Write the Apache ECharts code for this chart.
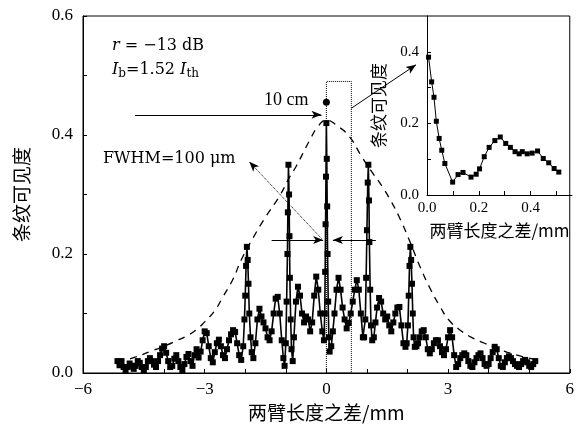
<!DOCTYPE html>
<html><head><meta charset="utf-8">
<script src="https://cdn.jsdelivr.net/npm/echarts@6/dist/echarts.min.js"></script>
<style>html,body{margin:0;padding:0;background:#fff}#c{width:577px;height:434px}</style>
</head><body><div id="c"></div>
<script>
// Main visibility curve: [path difference (mm), fringe visibility]
const mainData = [
[-5.15,0.02],[-5.1,0.013],[-5.05,0.02],[-5.0,0.01],[-4.95,0.005],[-4.9,0.01],[-4.85,0.016],[-4.8,0.012],[-4.75,0.007],[-4.7,0.012],[-4.65,0.02],[-4.6,0.017],[-4.55,0.01],[-4.5,0.005],[-4.45,0.01],[-4.4,0.02],[-4.35,0.025],[-4.3,0.02],[-4.25,0.014],[-4.2,0.01],[-4.15,0.02],[-4.1,0.03],[-4.05,0.041],[-4.0,0.045],[-3.95,0.034],[-3.9,0.02],[-3.85,0.01],[-3.8,0.012],[-3.75,0.024],[-3.7,0.03],[-3.65,0.02],[-3.6,0.01],[-3.55,0.005],[-3.5,0.015],[-3.45,0.027],[-3.4,0.032],[-3.35,0.02],[-3.3,0.012],[-3.25,0.03],[-3.2,0.04],[-3.15,0.026],[-3.1,0.036],[-3.05,0.055],[-3.0,0.07],[-2.95,0.067],[-2.9,0.045],[-2.85,0.025],[-2.8,0.018],[-2.75,0.035],[-2.7,0.05],[-2.65,0.056],[-2.6,0.045],[-2.55,0.03],[-2.5,0.025],[-2.45,0.04],[-2.4,0.055],[-2.35,0.065],[-2.3,0.072],[-2.25,0.069],[-2.2,0.05],[-2.15,0.03],[-2.1,0.022],[-2.05,0.045],[-2.02,0.09],[-2.0,0.13],[-1.98,0.18],[-1.96,0.212],[-1.94,0.19],[-1.92,0.15],[-1.9,0.1],[-1.87,0.06],[-1.84,0.035],[-1.8,0.025],[-1.75,0.05],[-1.7,0.09],[-1.65,0.108],[-1.6,0.095],[-1.55,0.085],[-1.5,0.075],[-1.45,0.06],[-1.4,0.055],[-1.35,0.07],[-1.3,0.1],[-1.25,0.125],[-1.2,0.128],[-1.15,0.1],[-1.1,0.055],[-1.06,0.025],[-1.03,0.012],[-1.0,0.05],[-0.98,0.12],[-0.96,0.2],[-0.95,0.27],[-0.935,0.35],[-0.92,0.3],[-0.91,0.23],[-0.9,0.16],[-0.88,0.09],[-0.86,0.04],[-0.83,0.02],[-0.8,0.06],[-0.75,0.12],[-0.7,0.145],[-0.65,0.13],[-0.6,0.1],[-0.55,0.085],[-0.5,0.095],[-0.45,0.09],[-0.4,0.07],[-0.35,0.085],[-0.3,0.13],[-0.25,0.162],[-0.2,0.14],[-0.15,0.1],[-0.1,0.07],[-0.06,0.055],[-0.04,0.1],[-0.03,0.17],[-0.02,0.25],[-0.01,0.33],[0,0.42],[0.01,0.36],[0.02,0.28],[0.03,0.2],[0.045,0.12],[0.06,0.06],[0.08,0.036],[0.12,0.045],[0.16,0.07],[0.2,0.1],[0.25,0.14],[0.3,0.16],[0.35,0.14],[0.4,0.11],[0.45,0.09],[0.5,0.075],[0.55,0.084],[0.6,0.1],[0.65,0.12],[0.7,0.14],[0.75,0.156],[0.8,0.14],[0.85,0.1],[0.9,0.06],[0.93,0.06],[0.96,0.09],[0.98,0.16],[1.0,0.24],[1.02,0.32],[1.035,0.35],[1.05,0.29],[1.06,0.22],[1.08,0.14],[1.1,0.08],[1.13,0.055],[1.17,0.06],[1.21,0.085],[1.25,0.11],[1.3,0.126],[1.35,0.12],[1.4,0.1],[1.45,0.09],[1.5,0.095],[1.55,0.08],[1.6,0.07],[1.65,0.085],[1.7,0.1],[1.75,0.11],[1.8,0.111],[1.85,0.08],[1.9,0.05],[1.95,0.044],[1.98,0.05],[2.01,0.08],[2.03,0.13],[2.05,0.18],[2.07,0.212],[2.09,0.19],[2.11,0.15],[2.13,0.1],[2.15,0.06],[2.18,0.044],[2.22,0.045],[2.26,0.05],[2.3,0.06],[2.35,0.07],[2.4,0.072],[2.45,0.06],[2.5,0.04],[2.55,0.033],[2.6,0.04],[2.65,0.05],[2.7,0.055],[2.75,0.055],[2.8,0.045],[2.85,0.035],[2.9,0.03],[2.95,0.04],[3.0,0.06],[3.05,0.072],[3.1,0.06],[3.15,0.03],[3.2,0.01],[3.25,0.015],[3.3,0.025],[3.35,0.03],[3.4,0.033],[3.45,0.03],[3.5,0.02],[3.55,0.012],[3.6,0.01],[3.65,0.018],[3.7,0.025],[3.75,0.03],[3.8,0.033],[3.85,0.025],[3.9,0.015],[3.95,0.012],[4.0,0.015],[4.05,0.025],[4.1,0.035],[4.15,0.044],[4.2,0.04],[4.25,0.025],[4.3,0.012],[4.35,0.01],[4.4,0.018],[4.45,0.025],[4.5,0.028],[4.55,0.025],[4.6,0.02],[4.65,0.015],[4.7,0.012],[4.75,0.01],[4.8,0.015],[4.85,0.02],[4.9,0.022],[4.95,0.018],[5.0,0.012],[5.05,0.01],[5.1,0.015],[5.15,0.02]
];
// Dashed envelope
const envelopeData = [
[-5.15,0.018],[-4.7,0.027],[-4.35,0.036],[-4.0,0.045],[-3.7,0.054],[-3.45,0.062],[-3.2,0.073],[-3.0,0.086],[-2.75,0.105],[-2.55,0.128],[-2.3,0.158],[-2.1,0.19],[-1.8,0.228],[-1.5,0.262],[-1.15,0.298],[-0.9,0.33],[-0.74,0.348],[-0.42,0.39],[-0.2,0.415],[0,0.425],[0.24,0.417],[0.57,0.397],[0.85,0.366],[1.1,0.34],[1.38,0.313],[1.6,0.288],[1.79,0.263],[2.04,0.224],[2.3,0.18],[2.55,0.143],[2.8,0.112],[3.02,0.089],[3.3,0.072],[3.6,0.059],[3.9,0.05],[4.25,0.04],[4.7,0.03],[5.18,0.022]
];
// 10 cm point
const pointData = [[0, 0.455]];
// Inset curve
const insetData = [
[0.006,0.385],[0.018,0.316],[0.027,0.273],[0.036,0.206],[0.047,0.158],[0.057,0.125],[0.069,0.088],[0.099,0.036],[0.12,0.057],[0.139,0.063],[0.17,0.05],[0.19,0.058],[0.203,0.073],[0.221,0.107],[0.24,0.133],[0.262,0.152],[0.283,0.162],[0.304,0.144],[0.322,0.133],[0.34,0.121],[0.356,0.115],[0.368,0.121],[0.387,0.115],[0.406,0.117],[0.427,0.123],[0.449,0.102],[0.47,0.09],[0.491,0.074],[0.509,0.064]
];
const mainXLabels = [-6,-3,0,3,6];
const mainYLabels = [0,0.2,0.4,0.6];
const insetXLabels = [0,0.2,0.4];
const insetYLabels = [0,0.2,0.4];

const SERIF = "'Liberation Serif','Noto Sans CJK SC',serif";
const DSERIF = "'DejaVu Serif','Liberation Serif',serif";
const CJK = "'Noto Sans CJK SC',sans-serif";
const near = (arr, v) => arr.some(a => Math.abs(a - v) < 1e-6);
const fmtNum = (v, d) => (v < 0 ? '\u2212' : '') + Math.abs(v).toFixed(d);

const chart = echarts.init(document.getElementById('c'), null, {renderer:'canvas'});
const axisBase = {
  axisLine:{onZero:false,lineStyle:{color:'#000',width:1}},
  axisTick:{inside:true,length:4,lineStyle:{color:'#000'}},
  splitLine:{show:false}
};
chart.setOption({
  animation:false,
  backgroundColor:'#fff',
  grid:[
    {left:83,right:6,top:16,bottom:61,show:true,borderColor:'#000',borderWidth:1,backgroundColor:'transparent'},
    {left:427,right:5,top:16,bottom:239,show:false}
  ],
  xAxis:[
    Object.assign({gridIndex:0,type:'value',min:-6,max:6,interval:1,
     axisLabel:{color:'#000',fontFamily:SERIF,fontSize:17,margin:8,
       formatter:v=>near(mainXLabels,v)?fmtNum(v,0):''},
     name:'两臂长度之差/mm',nameLocation:'middle',nameGap:30,
     nameTextStyle:{color:'#000',fontFamily:CJK,fontSize:19}},axisBase),
    Object.assign({gridIndex:1,type:'value',min:0,max:0.56,interval:0.1,
     axisLabel:{color:'#000',fontFamily:SERIF,fontSize:15,margin:6,showMaxLabel:false,
       formatter:v=>near(insetXLabels,v)?fmtNum(v,1):''},
     name:'两臂长度之差/mm',nameLocation:'middle',nameGap:27,
     nameTextStyle:{color:'#000',fontFamily:CJK,fontSize:17}},axisBase)
  ],
  yAxis:[
    Object.assign({gridIndex:0,type:'value',min:0,max:0.6,interval:0.1,
     axisLabel:{color:'#000',fontFamily:SERIF,fontSize:17,margin:10,
       formatter:v=>near(mainYLabels,v)?fmtNum(v,1):''},
     name:'条纹可见度',nameLocation:'middle',nameGap:52,
     nameTextStyle:{color:'#000',fontFamily:CJK,fontSize:19}},axisBase),
    Object.assign({gridIndex:1,type:'value',min:0,max:0.5,interval:0.1,
     axisLabel:{color:'#000',fontFamily:SERIF,fontSize:15,margin:8,showMaxLabel:false,
       formatter:v=>near(insetYLabels,v)?fmtNum(v,1):''},
     name:'条纹可见度',nameLocation:'middle',nameGap:40,
     nameTextStyle:{color:'#000',fontFamily:CJK,fontSize:17}},axisBase)
  ],
  series:[
    {type:'line',xAxisIndex:0,yAxisIndex:0,data:envelopeData,smooth:true,showSymbol:false,
     lineStyle:{color:'#000',width:1.3,type:[7,6]},z:1},
    {type:'line',xAxisIndex:0,yAxisIndex:0,data:mainData,symbol:'rect',symbolSize:6,
     itemStyle:{color:'#000'},lineStyle:{color:'#000',width:1.6},z:2},
    {type:'scatter',xAxisIndex:0,yAxisIndex:0,data:pointData,symbol:'circle',symbolSize:7,
     itemStyle:{color:'#000',opacity:1},z:3,
     markArea:{silent:true,itemStyle:{color:'rgba(0,0,0,0)',borderColor:'#000',borderWidth:1,borderType:'dotted'},
       data:[[{coord:[0,0]},{coord:[0.615,0.49]}]]},
     markLine:{silent:true,symbol:['none','arrow'],symbolSize:[6,10],animation:false,
       label:{show:false},lineStyle:{color:'#000',width:1,type:'solid'},
       data:[
         [{coord:[-4.72,0.434]},{coord:[-0.12,0.434]}],
         [{coord:[-1.35,0.2235]},{coord:[-0.08,0.2235]}],
         [{coord:[1.22,0.2235]},{coord:[0.16,0.2235]}],
         [{coord:[0.615,0.445]},{coord:[2.21,0.518]}],
         [{coord:[-0.12,0.226],lineStyle:{type:'dotted'}},{coord:[-1.9,0.355]}]
       ]}},
    {type:'line',xAxisIndex:1,yAxisIndex:1,data:insetData,symbol:'rect',symbolSize:5,
     itemStyle:{color:'#000'},lineStyle:{color:'#000',width:1},z:2}
  ],
  graphic:[
    {type:'text',left:112,top:38,style:{text:'{i|r}{n| = \u221213 dB}',
      rich:{i:{fontFamily:DSERIF,fontStyle:'italic',fontSize:16,fill:'#000'},n:{fontFamily:DSERIF,fontSize:16,fill:'#000'}}}},
    {type:'text',left:112,top:62,style:{text:'{i|I}{s|b}{n|=1.52 }{i|I}{s|th}',
      rich:{i:{fontFamily:DSERIF,fontStyle:'italic',fontSize:16,lineHeight:20,fill:'#000'},
            n:{fontFamily:DSERIF,fontSize:16,lineHeight:20,fill:'#000'},
            s:{fontFamily:DSERIF,fontSize:12,lineHeight:12,verticalAlign:'bottom',fill:'#000'}}}},
    {type:'text',left:264,top:91,style:{text:'10 cm',fontFamily:SERIF,fontSize:18,fill:'#000'}},
    {type:'text',left:103,top:151,style:{text:'FWHM=100 \u03bcm',fontFamily:DSERIF,fontSize:16,fill:'#000'}}
  ]
});
</script></body></html>
